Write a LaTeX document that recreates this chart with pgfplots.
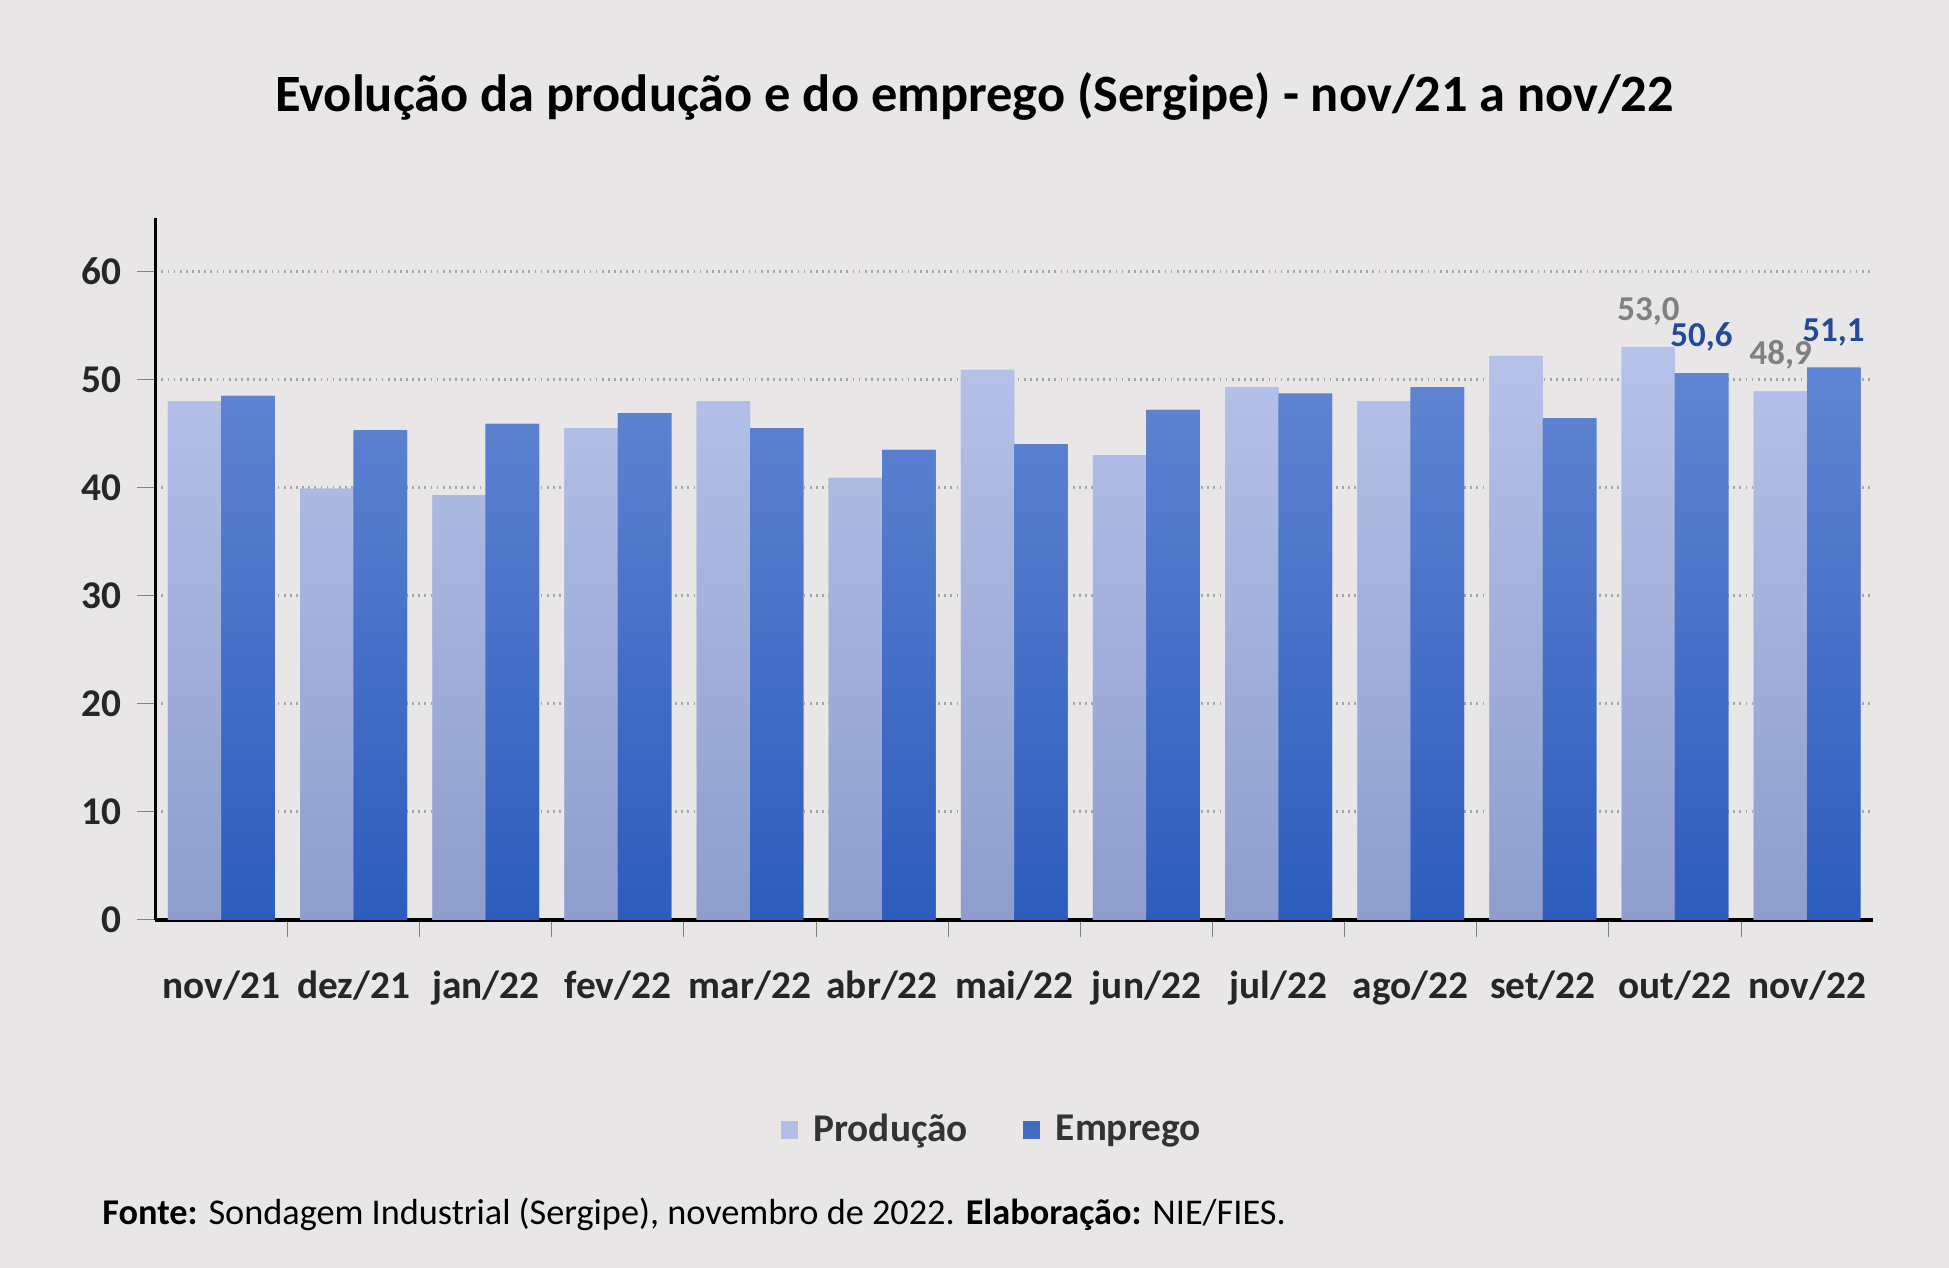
\documentclass[border=0pt]{standalone}
\usepackage{pgfplots}
\pgfplotsset{compat=1.18}
\usepackage{fontspec}
\setmainfont{Carlito}
\definecolor{bg}{HTML}{E8E6E6}
\definecolor{pt}{HTML}{B6C2E8}
\definecolor{pb}{HTML}{8E9DCC}
\definecolor{et}{HTML}{6085D2}
\definecolor{eb}{HTML}{2D5CBD}
\begin{document}
\begin{tikzpicture}
\useasboundingbox[fill=bg] (0,0) rectangle (15.68,10.20);
\node[font=\fontsize{12}{14}\selectfont\bfseries] at (7.84,9.42) {Evolução da produção e do emprego (Sergipe) - nov/21 a nov/22};
\node[anchor=west,font=\fontsize{8.3}{10}\selectfont] at (0.7,0.43) {\textbf{Fonte:} Sondagem Industrial (Sergipe), novembro de 2022. \textbf{Elaboração:} NIE/FIES.};
\fill[pt!90!pb] (6.28,1.04) rectangle (6.42,1.18);
\node[anchor=west,font=\fontsize{9}{11}\selectfont\bfseries, text=black!80] at (6.42,1.1) {Produção};
\fill[eb!90] (8.23,1.04) rectangle (8.37,1.18);
\node[anchor=west,font=\fontsize{9}{11}\selectfont\bfseries, text=black!80] at (8.37,1.1) {Emprego};
\begin{axis}[at={(1.25cm,2.8cm)}, anchor=south west, scale only axis,
  width=13.82cm, height=5.65cm,
  xmin=-0.5, xmax=12.5, ymin=0, ymax=65,
  axis x line*=bottom, axis y line*=left,
  ytick={0,10,...,60}, ymajorgrids, grid style={densely dotted, gray!70, line width=0.8pt},
  xtick={0,...,12}, xticklabels={nov/21,dez/21,jan/22,fev/22,mar/22,abr/22,mai/22,jun/22,jul/22,ago/22,set/22,out/22,nov/22},
  major x tick style={draw=none},
  minor xtick={0.5,1.5,...,11.5}, minor tick length=4pt, tick align=outside,
  x tick label style={font=\fontsize{9}{11}\selectfont\bfseries, text=black!85, yshift=-4pt},
  y tick label style={font=\fontsize{9}{11}\selectfont\bfseries, text=black!85},
  /pgf/number format/assume math mode=true,
  axis line style={black, line width=0.8pt},
  ybar, bar width=0.43cm,
]
\addplot[bar shift=-0.215cm, draw=none, top color=pt, bottom color=pb, fill=pt] coordinates {
(0,48.0)(1,39.9)(2,39.3)(3,45.5)(4,48.0)(5,40.9)(6,50.9)(7,43.0)(8,49.3)(9,48.0)(10,52.2)(11,53.0)(12,48.9)};
\addplot[bar shift=0.215cm, draw=none, top color=et, bottom color=eb, fill=eb] coordinates {
(0,48.5)(1,45.3)(2,45.9)(3,46.9)(4,45.5)(5,43.5)(6,44.0)(7,47.2)(8,48.7)(9,49.3)(10,46.4)(11,50.6)(12,51.1)};
\node[font=\fontsize{8}{10}\selectfont\bfseries, text=gray, anchor=south] at (axis cs:10.8,53.6) {53,0};
\node[font=\fontsize{8}{10}\selectfont\bfseries, text=eb!80!black, anchor=south] at (axis cs:11.2,51.2) {50,6};
\node[font=\fontsize{8}{10}\selectfont\bfseries, text=gray, anchor=south] at (axis cs:11.8,49.5) {48,9};
\node[font=\fontsize{8}{10}\selectfont\bfseries, text=eb!80!black, anchor=south] at (axis cs:12.2,51.7) {51,1};
\end{axis}
\end{tikzpicture}
\end{document}
